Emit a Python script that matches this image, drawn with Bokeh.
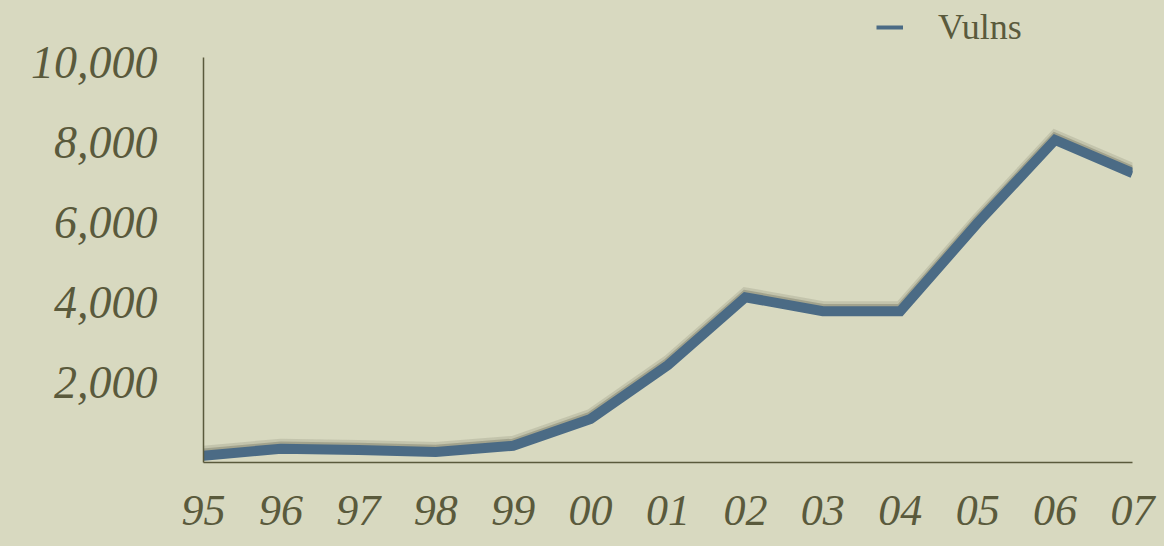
from bokeh.plotting import figure
from bokeh.models import ColumnDataSource, FixedTicker, Legend, LegendItem, Range1d, NumeralTickFormatter
from bokeh.transform import dodge
from bokeh.embed import file_html
from bokeh.resources import INLINE

# Yearly vulnerability counts
years = [1995, 1996, 1997, 1998, 1999, 2000, 2001, 2002, 2003, 2004, 2005, 2006, 2007]
year_labels = ["95", "96", "97", "98", "99", "00", "01", "02", "03", "04", "05", "06", "07"]
vulns = [171, 345, 311, 262, 417, 1090, 2437, 4129, 3784, 3780, 5990, 8064, 7236]
y_ticks = [2000, 4000, 6000, 8000, 10000]
y_axis_top = 10125      # vertical axis line stops here
y_view_top = 11550      # headroom above the axis holds the legend

PAPER = "#d8d9c0"
INK = "#5a5a3c"
LINE = "#4b6b85"
FONT = "Liberation Serif"

source = ColumnDataSource(data=dict(year=years, vulns=vulns))

p = figure(
    width=1164, height=546,
    output_backend="svg", toolbar_location=None,
    x_range=Range1d(1995, 2007), y_range=Range1d(0, y_view_top),
    min_border_left=203, min_border_right=32, min_border_top=0, min_border_bottom=84,
    background_fill_alpha=0, border_fill_alpha=0,
    outline_line_color=None,
)
# one seamless paper colour behind the whole canvas
p.styles = {"background-color": PAPER}
p.grid.visible = False

# soft drop shadow sitting just above the series line
p.line("year", dodge("vulns", 100, range=p.y_range), source=source, line_width=12,
       line_color="#2f2f20", line_alpha=0.12, line_join="miter")
p.line("year", dodge("vulns", 55, range=p.y_range), source=source, line_width=10,
       line_color="#2f2f20", line_alpha=0.22, line_join="miter")

# thin stroke hidden under the main line; it supplies the legend swatch
swatch = p.line("year", "vulns", source=source, line_width=4, line_color=LINE)
p.line("year", "vulns", source=source, line_width=10, line_color=LINE,
       line_join="miter", line_cap="butt")

for ax in (p.xaxis[0], p.yaxis[0]):
    ax.axis_line_color = INK
    ax.axis_line_width = 1.5
    ax.major_tick_line_color = None
    ax.minor_tick_line_color = None
    ax.major_tick_out = 0
    ax.major_tick_in = 0
    ax.minor_tick_out = 0
    ax.major_label_text_font = FONT
    ax.major_label_text_font_style = "italic"
    ax.major_label_text_color = INK

p.xaxis.major_label_text_font_size = "44px"
p.xaxis.ticker = FixedTicker(ticks=years)
p.xaxis.major_label_overrides = {y: lab for y, lab in zip(years, year_labels)}
p.xaxis.major_label_standoff = 33

p.yaxis.bounds = (0, y_axis_top)
p.yaxis.major_label_text_font_size = "46px"
p.yaxis.ticker = FixedTicker(ticks=y_ticks)
p.yaxis.formatter = NumeralTickFormatter(format="0,0")
p.yaxis.major_label_standoff = 46

legend = Legend(
    items=[LegendItem(label="Vulns", renderers=[swatch])],
    location=(673, 414),
    orientation="horizontal",
    background_fill_alpha=0, border_line_color=None,
    label_text_font=FONT, label_text_color=INK, label_text_font_size="36px",
    glyph_width=27, label_standoff=35, padding=0, margin=0, spacing=0,
    label_height=40, glyph_height=40,
)
p.add_layout(legend)

open("out.html", "w").write(file_html(p, INLINE))
